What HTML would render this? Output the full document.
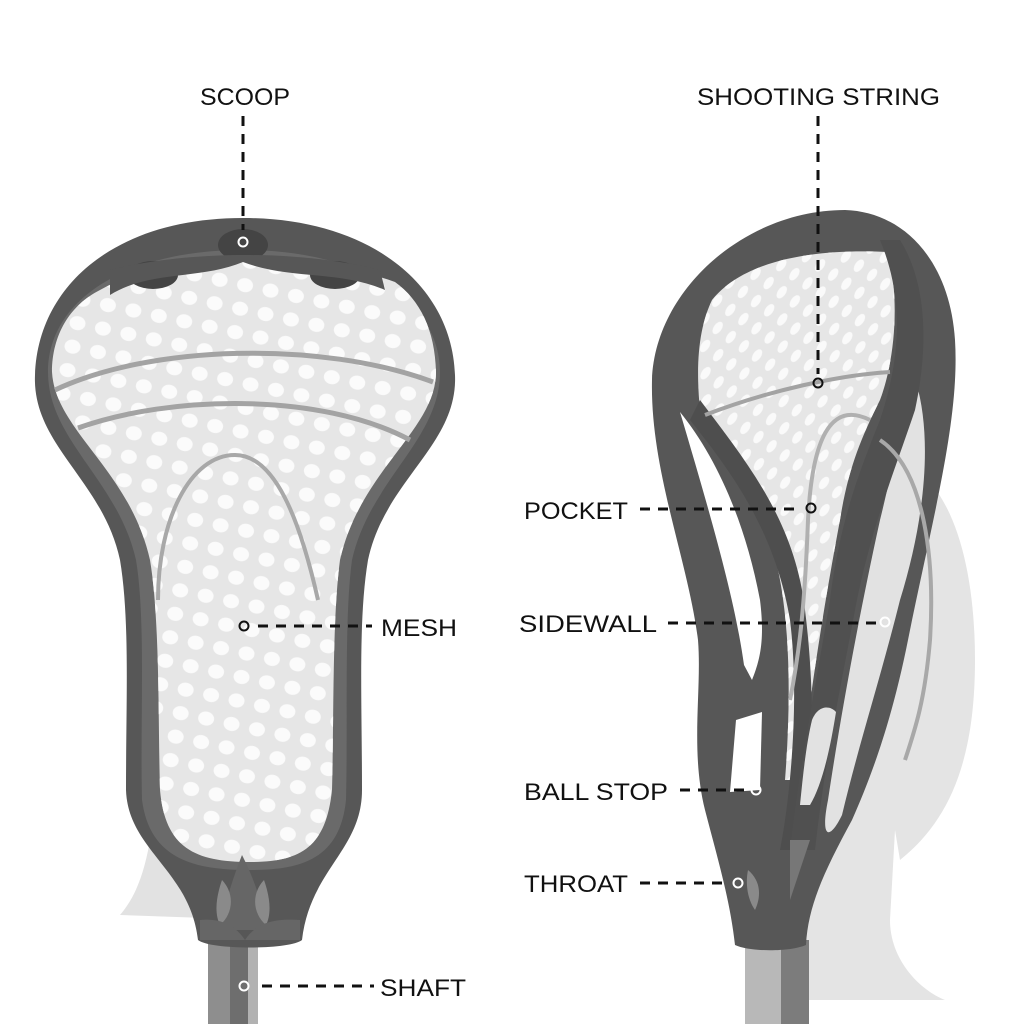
<!DOCTYPE html>
<html><head><meta charset="utf-8"><style>
html,body{margin:0;padding:0;background:#fff;}
svg{display:block;}
text{font-family:"Liberation Sans",sans-serif;font-size:24px;fill:#111;}
</style></head><body>
<svg width="1024" height="1024" viewBox="0 0 1024 1024" xmlns="http://www.w3.org/2000/svg">
<defs>
<pattern id="holes" width="26" height="24" patternUnits="userSpaceOnUse" patternTransform="rotate(12)">
<ellipse cx="13" cy="12" rx="8" ry="7" fill="#fbfbfb"/>
</pattern>
<pattern id="holes2" width="16" height="22" patternUnits="userSpaceOnUse" patternTransform="rotate(35)">
<ellipse cx="8" cy="11" rx="4" ry="7" fill="#fafafa"/>
</pattern>
</defs>
<!-- LEFT: background hanging mesh -->
<path d="M160,780 C150,830 150,880 120,915 L205,918 L205,800 Z" fill="#e2e2e2"/>
<!-- left shaft -->
<rect x="208" y="940" width="22" height="84" fill="#8e8e8e"/>
<rect x="230" y="940" width="18" height="84" fill="#6e6e6e"/>
<rect x="248" y="940" width="10" height="84" fill="#b2b2b2"/>
<!-- left head outer -->
<path d="M243,218 C370,218 452,285 455,375 C458,445 385,480 368,560 C358,620 362,700 362,790 C362,850 310,870 302,940 C290,950 210,950 198,940 C190,870 128,850 126,790 C126,700 130,620 120,560 C103,480 32,445 35,375 C38,285 116,218 243,218 Z" fill="#575757"/>
<path d="M243,250 C360,250 440,300 440,372 C440,440 370,480 352,560 C344,620 348,720 346,800 C340,860 300,870 250,870 C195,870 150,860 142,800 C140,720 146,620 136,560 C118,480 48,440 48,372 C48,300 126,250 243,250 Z" fill="#6a6a6a"/>
<path d="M100,290 C150,262 200,268 243,262 C290,268 340,262 395,282 C420,300 435,330 436,372 C436,430 360,470 340,560 C332,620 334,720 332,790 C326,848 300,862 250,862 C195,862 165,848 160,790 C158,720 160,620 150,560 C130,470 55,430 52,372 C52,335 70,305 100,290 Z" fill="#e6e6e6"/>
<path d="M100,290 C150,262 200,268 243,262 C290,268 340,262 395,282 C420,300 435,330 436,372 C436,430 360,470 340,560 C332,620 334,720 332,790 C326,848 300,862 250,862 C195,862 165,848 160,790 C158,720 160,620 150,560 C130,470 55,430 52,372 C52,335 70,305 100,290 Z" fill="url(#holes)"/>
<ellipse cx="153" cy="275" rx="25" ry="14" fill="#444"/>
<ellipse cx="243" cy="245" rx="25" ry="16" fill="#444"/>
<ellipse cx="335" cy="275" rx="25" ry="14" fill="#444"/>
<path d="M110,295 C150,270 200,280 243,262 C290,280 340,270 385,290 L380,270 C300,250 190,250 110,270 Z" fill="#575757"/>
<path d="M55,390 C150,345 320,340 433,382" fill="none" stroke="#a3a3a3" stroke-width="5"/>
<path d="M78,428 C170,395 320,392 410,440" fill="none" stroke="#a3a3a3" stroke-width="5"/>
<path d="M158,600 C158,520 190,455 235,455 C275,455 300,520 318,600" fill="none" stroke="#a8a8a8" stroke-width="4"/>
<path d="M242,855 C232,880 225,905 218,930 L268,930 C262,905 255,880 242,855 Z" fill="#666"/>
<path d="M222,880 C215,900 215,915 220,925 C232,915 236,895 222,880 Z" fill="#8a8a8a"/>
<path d="M264,880 C271,900 271,915 266,925 C254,915 250,895 264,880 Z" fill="#8a8a8a"/>
<path d="M200,920 C220,918 235,925 245,940 C255,925 270,918 300,920 L300,940 L200,940 Z" fill="#666"/>

<!-- RIGHT: background hanging mesh -->
<path d="M900,460 C950,480 975,560 975,660 C975,760 950,820 900,860 L895,830 L890,920 C890,960 920,990 945,1000 L800,1000 L800,800 Z" fill="#e4e4e4"/>
<rect x="745" y="940" width="36" height="84" fill="#b8b8b8"/>
<rect x="781" y="940" width="28" height="84" fill="#7c7c7c"/>
<path d="M845,210 C905,212 950,262 955,340 C960,420 932,520 908,640 C892,720 872,775 852,820 C825,870 808,905 806,945 C790,952 750,952 735,945 C730,900 718,860 705,810 C690,750 702,690 698,640 C688,560 650,470 652,380 C655,290 745,210 845,210 Z" fill="#575757"/>
<!-- top mesh -->
<path d="M712,300 C740,265 800,248 888,252 C900,300 895,360 880,400 C860,440 848,470 840,520 C825,600 812,680 800,780 L785,780 C792,690 790,600 770,540 C750,480 722,440 700,410 C695,360 700,325 712,300 Z" fill="#e6e6e6"/>
<path d="M712,300 C740,265 800,248 888,252 C900,300 895,360 880,400 C860,440 848,470 840,520 C825,600 812,680 800,780 L785,780 C792,690 790,600 770,540 C750,480 722,440 700,410 C695,360 700,325 712,300 Z" fill="url(#holes2)"/>
<path d="M912,370 C935,430 925,520 900,600 C880,680 860,740 842,815 C830,840 820,840 828,800 C840,720 858,620 880,520 C895,460 905,400 912,370 Z" fill="#e2e2e2"/>
<!-- center bar -->
<path d="M690,420 C730,470 775,530 790,620 C800,700 790,800 780,850 L800,850 C815,780 815,690 805,610 C795,520 745,460 700,400 Z" fill="#4e4e4e"/>
<!-- right bar -->
<path d="M880,240 C905,300 900,360 880,420 C860,470 840,520 830,600 C815,690 800,760 790,850 L815,850 C825,760 840,690 855,610 C870,530 895,470 915,410 C930,340 925,280 900,240 Z" fill="#505050"/>
<!-- left sidewall windows -->
<path d="M680,412 C715,455 745,520 760,600 C765,640 760,660 752,680 L744,665 C735,600 712,520 680,412 Z" fill="#fff"/>
<path d="M736,720 L762,712 L760,790 L730,792 Z" fill="#fff"/>
<path d="M812,720 C818,705 830,705 836,712 C830,750 822,785 810,805 L800,805 C803,775 806,745 812,720 Z" fill="#e2e2e2"/>
<path d="M705,415 C770,390 840,375 890,372" fill="none" stroke="#a3a3a3" stroke-width="4"/>
<path d="M870,420 C830,400 812,440 808,520 C805,600 800,650 790,700" fill="none" stroke="#b0b0b0" stroke-width="4"/>
<path d="M880,440 C925,470 935,560 930,640 C925,700 915,730 905,760" fill="none" stroke="#a8a8a8" stroke-width="4"/>
<path d="M748,870 C745,885 748,900 755,910 C762,895 760,880 748,870 Z" fill="#8a8a8a"/>
<path d="M790,840 L810,840 L790,900 Z" fill="#777"/>

<text x="200" y="105" textLength="90" lengthAdjust="spacingAndGlyphs">SCOOP</text>
<text x="697" y="105" textLength="243" lengthAdjust="spacingAndGlyphs">SHOOTING STRING</text>
<text x="524" y="519" textLength="104" lengthAdjust="spacingAndGlyphs">POCKET</text>
<text x="381" y="636" textLength="76" lengthAdjust="spacingAndGlyphs">MESH</text>
<text x="519" y="632" textLength="138" lengthAdjust="spacingAndGlyphs">SIDEWALL</text>
<text x="524" y="800" textLength="144" lengthAdjust="spacingAndGlyphs">BALL STOP</text>
<text x="524" y="892" textLength="104" lengthAdjust="spacingAndGlyphs">THROAT</text>
<text x="380" y="996" textLength="86" lengthAdjust="spacingAndGlyphs">SHAFT</text>

<g stroke="#111" stroke-width="3" stroke-dasharray="10,8" fill="none">
<line x1="243" y1="116" x2="243" y2="230"/>
<line x1="818" y1="116" x2="818" y2="374"/>
<line x1="640" y1="509" x2="802" y2="509"/>
<line x1="258" y1="626" x2="372" y2="626"/>
<line x1="668" y1="623" x2="876" y2="623"/>
<line x1="680" y1="790" x2="748" y2="790"/>
<line x1="640" y1="883" x2="730" y2="883"/>
<line x1="262" y1="986" x2="374" y2="986"/>
</g>
<g stroke="#111" stroke-width="2" fill="none">
<circle cx="818" cy="383" r="4.5"/>
<circle cx="811" cy="508" r="4.5"/>
<circle cx="244" cy="626" r="4.5"/>
</g>
<g stroke="#fff" stroke-width="2" fill="none">
<circle cx="243" cy="242" r="4.5"/>
<circle cx="885" cy="622" r="4.5"/>
<circle cx="756" cy="790" r="4.5"/>
<circle cx="738" cy="883" r="4.5"/>
<circle cx="244" cy="986" r="4.5"/>
</g>
</svg>
</body></html>
